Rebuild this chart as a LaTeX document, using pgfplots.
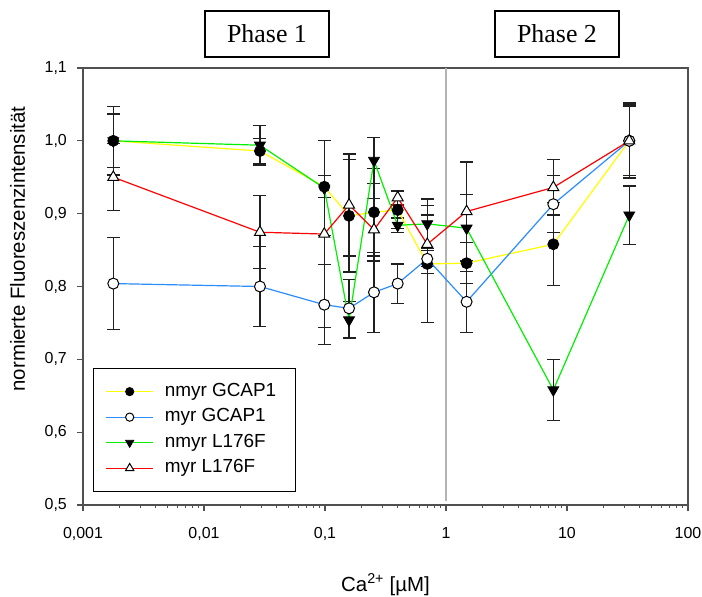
\documentclass[border=0pt]{standalone}
\usepackage{fontspec}
\setmainfont{Liberation Sans}
\newfontfamily\phasefont{Liberation Serif}
\usepackage{pgfplots}
\usepackage{pgfplotstable}
\pgfplotsset{compat=1.18}
\definecolor{cyel}{HTML}{FFFF00}
\definecolor{cblue}{HTML}{2A8CFF}
\definecolor{cgreen}{HTML}{00F000}
\definecolor{cred}{HTML}{FF0000}
\definecolor{axgray}{HTML}{505050}
\definecolor{vgray}{HTML}{B4B4B4}
\definecolor{errc}{HTML}{202020}

\pgfplotstableread{
x y e
0.00178 1.000 0.047
0.0290 0.986 0.017
0.0987 0.937 0.015
0.158 0.897 0.077
0.254 0.902 0.060
0.399 0.905 0.025
0.700 0.831 0.080
1.48 0.832 0.028
7.71 0.858 0.057
32.7 1.000 0.050
}\nmyrG
\pgfplotstableread{
x y e
0.00178 0.804 0.063
0.0290 0.800 0.055
0.0987 0.775 0.055
0.158 0.770 0.040
0.254 0.792 0.055
0.399 0.804 0.027
0.700 0.838 0.011
1.48 0.779 0.042
7.71 0.913 0.039
32.7 1.000 0.052
}\myrG
\pgfplotstableread{
x y e
0.00178 1.000 0.037
0.0290 0.994 0.027
0.0987 0.935 0.065
0.158 0.754 0.025
0.254 0.973 0.032
0.399 0.884 0.010
0.700 0.886 0.034
1.48 0.880 0.046
7.71 0.658 0.042
32.7 0.898 0.040
}\nmyrL
\pgfplotstableread{
x y e
0.00178 0.950 0.046
0.0290 0.8745 0.050
0.0987 0.872 0.128
0.158 0.912 0.070
0.254 0.878 0.043
0.399 0.922 0.010
0.700 0.858 0.040
1.48 0.903 0.068
7.71 0.936 0.038
32.7 1.000 0.048
}\myrL

\newcommand{\tfont}{\fontsize{16}{19}\selectfont}
\newcommand{\lgfont}{\fontsize{19}{22}\selectfont}
\newcommand{\lfont}{\fontsize{20.5}{24}\selectfont}
\pgfplotsset{errplot/.style={forget plot, errc, only marks, mark=none, error bars/.cd, y dir=both, y explicit,
  error mark=-,
  error bar style={draw=errc, line width=1.3bp},
  error mark options={draw=errc, line width=1.3bp, mark size=6.5bp, rotate=90}}}

\begin{document}
\begin{tikzpicture}
\begin{axis}[
  scale only axis, width=605bp, height=437bp,
  xmode=log, xmin=0.001, xmax=100, ymin=0.5, ymax=1.1,
  xtick={0.001,0.01,0.1,1,10,100},
  xticklabels={{0,001},{0,01},{0,1},1,10,100},
  ytick={0.5,0.6,0.7,0.8,0.9,1.0,1.1},
  yticklabels={{0,5},{0,6},{0,7},{0,8},{0,9},{1,0},{1,1}},
  minor xtick={}, minor ytick={},
  xtick pos=bottom, ytick pos=left,
  tick align=outside, major tick length=6bp,
  axis line style={draw=axgray, line width=1.5bp},
  tick style={draw=axgray, line width=1.2bp},
  tick label style={font=\tfont, inner sep=0pt},
  xticklabel style={yshift=-16bp},
  yticklabel style={xshift=-10bp},
  xlabel={Ca\textsuperscript{2+} [µM]},
  ylabel={normierte Fluoreszenzintensität},
  xlabel style={font=\lfont, at={(axis description cs:0.5,-0.1968)}, anchor=base},
  ylabel style={font=\lfont, at={(axis description cs:-0.09587,0.2517)}, anchor=base west},
  legend style={at={(axis description cs:0.01653,0.02975)}, anchor=south west,
    draw=black, line width=1.2bp, font=\lgfont, inner xsep=12bp, inner ysep=14.75bp,
    row sep=8.5bp, column sep=0bp, nodes={inner sep=0bp, text height=13bp, text depth=4bp}},
  legend cell align=left,
  legend image code/.code={\draw[mark repeat=2,mark phase=2,#1, every mark/.append style={scale=0.75}] plot coordinates {(0bp,0bp) (23.5bp,0bp) (47bp,0bp)};},
]
\addplot[forget plot, draw=vgray, line width=2.5bp] coordinates {(1,0.505) (1,1.1)};
\addplot[errplot] table[x=x,y=y,y error=e]{\nmyrG};
\addplot[errplot] table[x=x,y=y,y error=e]{\myrG};
\addplot[errplot] table[x=x,y=y,y error=e]{\nmyrL};
\addplot[errplot] table[x=x,y=y,y error=e]{\myrL};
\addplot[color=cyel, line width=1.2bp, mark=*, mark options={fill=black, draw=black, mark size=5.5bp, line width=0.8bp}] table[x=x,y=y]{\nmyrG};
\addlegendentry{\hspace{11bp}\makebox[119bp][l]{nmyr GCAP1}}
\addplot[color=cblue, line width=1.2bp, mark=*, mark options={fill=white, draw=black, mark size=5.5bp, line width=1bp}] table[x=x,y=y]{\myrG};
\addlegendentry{\hspace{11bp}myr GCAP1}
\addplot[color=cgreen, line width=1.2bp, mark=triangle*, mark options={fill=black, draw=black, rotate=180, mark size=6.3bp, line width=0.8bp}] table[x=x,y=y]{\nmyrL};
\addlegendentry{\hspace{11bp}nmyr L176F}
\addplot[color=cred, line width=1.2bp, mark=triangle*, mark options={fill=white, draw=black, mark size=6.3bp, line width=1bp}] table[x=x,y=y]{\myrL};
\addlegendentry{\hspace{11bp}myr L176F}
\end{axis}
\node[draw=black, line width=1.5bp, minimum width=124bp, minimum height=46bp, inner sep=0pt, font=\phasefont\fontsize{26}{30}\selectfont] at (184bp,471bp) {Phase 1};
\node[draw=black, line width=1.5bp, minimum width=124bp, minimum height=46bp, inner sep=0pt, font=\phasefont\fontsize{26}{30}\selectfont] at (474bp,471bp) {Phase 2};
\pgfresetboundingbox
\path[use as bounding box] (-83bp,-92bp) rectangle (619bp,505bp);
\end{tikzpicture}
\end{document}
